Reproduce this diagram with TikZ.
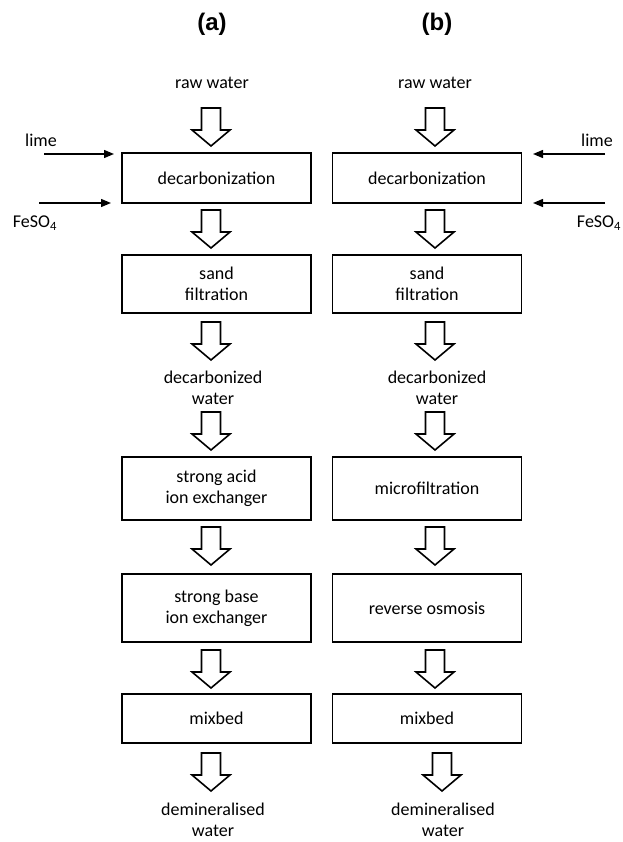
\documentclass[tikz,border=0pt]{standalone}
\usepackage{fontspec}
\setmainfont{Carlito}
\newfontfamily\titlefont{Liberation Sans}
\usetikzlibrary{arrows.meta}
\begin{document}
\begin{tikzpicture}[x=1pt,y=-1pt,
  every node/.style={font=\fontsize{18}{21}\selectfont},
  procbox/.style={draw=black,line width=1.8pt,minimum width=189pt,inner sep=0pt,align=center},
  lbl/.style={align=center,inner sep=0pt},
  titlelbl/.style={font=\titlefont\bfseries\fontsize{24}{28}\selectfont,inner sep=0pt},
  feed/.style={line width=1.3pt,-{Triangle[length=10pt,width=8pt]}},
  hollow/.style={draw=black,line width=1.6pt,line join=miter,fill=white}]
\useasboundingbox (0,0) rectangle (622,842);
\newcommand{\harrow}[2]{\draw[hollow] (#1,#2) ++(-9.5,0) -- ++(19,0) -- ++(0,22) -- ++(9.5,0) -- ++(-19,16) -- ++(-19,-16) -- ++(9.5,0) -- cycle;}

% titles
\node[titlelbl] (ta) at (212,24) {(a)};
\node[titlelbl] (tb) at (437,24) {(b)};

% ---------- column (a) ----------
\node[lbl] (araw) at (212,83) {raw water};
\node[procbox,minimum height=50pt] (a1) at (216.5,178) {decarbonization};
\node[procbox,minimum height=58pt] (a2) at (216.5,284) {sand\\filtration};
\node[lbl] (adec) at (213,388) {decarbonized\\water};
\node[procbox,minimum height=63pt] (a3) at (216.5,488.5) {strong acid\\ion exchanger};
\node[procbox,minimum height=68pt] (a4) at (216.5,608) {strong base\\ion exchanger};
\node[procbox,minimum height=49pt] (a5) at (216.5,718.5) {mixbed};
\node[lbl] (adem) at (213,820) {demineralised\\water};

\harrow{211}{108}
\harrow{211}{210}
\harrow{211}{322}
\harrow{211}{412}
\harrow{211}{527}
\harrow{211}{650}
\harrow{211}{753}

\node[lbl] (alime) at (41,140) {lime};
\node[lbl] (afe) at (35,223) {FeSO\textsubscript{4}};
\coordinate (alimes) at (44,154);
\coordinate (alimee) at (114,154);
\coordinate (afes) at (39,203);
\coordinate (afee) at (111,203);
\draw[feed] (alimes) -- (alimee);
\draw[feed] (afes) -- (afee);

% ---------- column (b) ----------
\node[lbl] (braw) at (435,83) {raw water};
\node[procbox,minimum height=50pt] (b1) at (427,178) {decarbonization};
\node[procbox,minimum height=58pt] (b2) at (427,284) {sand\\filtration};
\node[lbl] (bdec) at (437,388) {decarbonized\\water};
\node[procbox,minimum height=63pt] (b3) at (427,488.5) {microfiltration};
\node[procbox,minimum height=68pt] (b4) at (427,608) {reverse osmosis};
\node[procbox,minimum height=49pt] (b5) at (427,718.5) {mixbed};
\node[lbl] (bdem) at (443,820) {demineralised\\water};

\harrow{435}{108}
\harrow{435}{210}
\harrow{435}{322}
\harrow{435}{412}
\harrow{435}{527}
\harrow{435}{650}
\harrow{442}{753}

\node[lbl] (blime) at (597,140) {lime};
\node[lbl] (bfe) at (599,223) {FeSO\textsubscript{4}};
\coordinate (blimes) at (605,154);
\coordinate (blimee) at (533,154);
\coordinate (bfes) at (605,203);
\coordinate (bfee) at (533,203);
\draw[feed] (blimes) -- (blimee);
\draw[feed] (bfes) -- (bfee);
\end{tikzpicture}
\end{document}
